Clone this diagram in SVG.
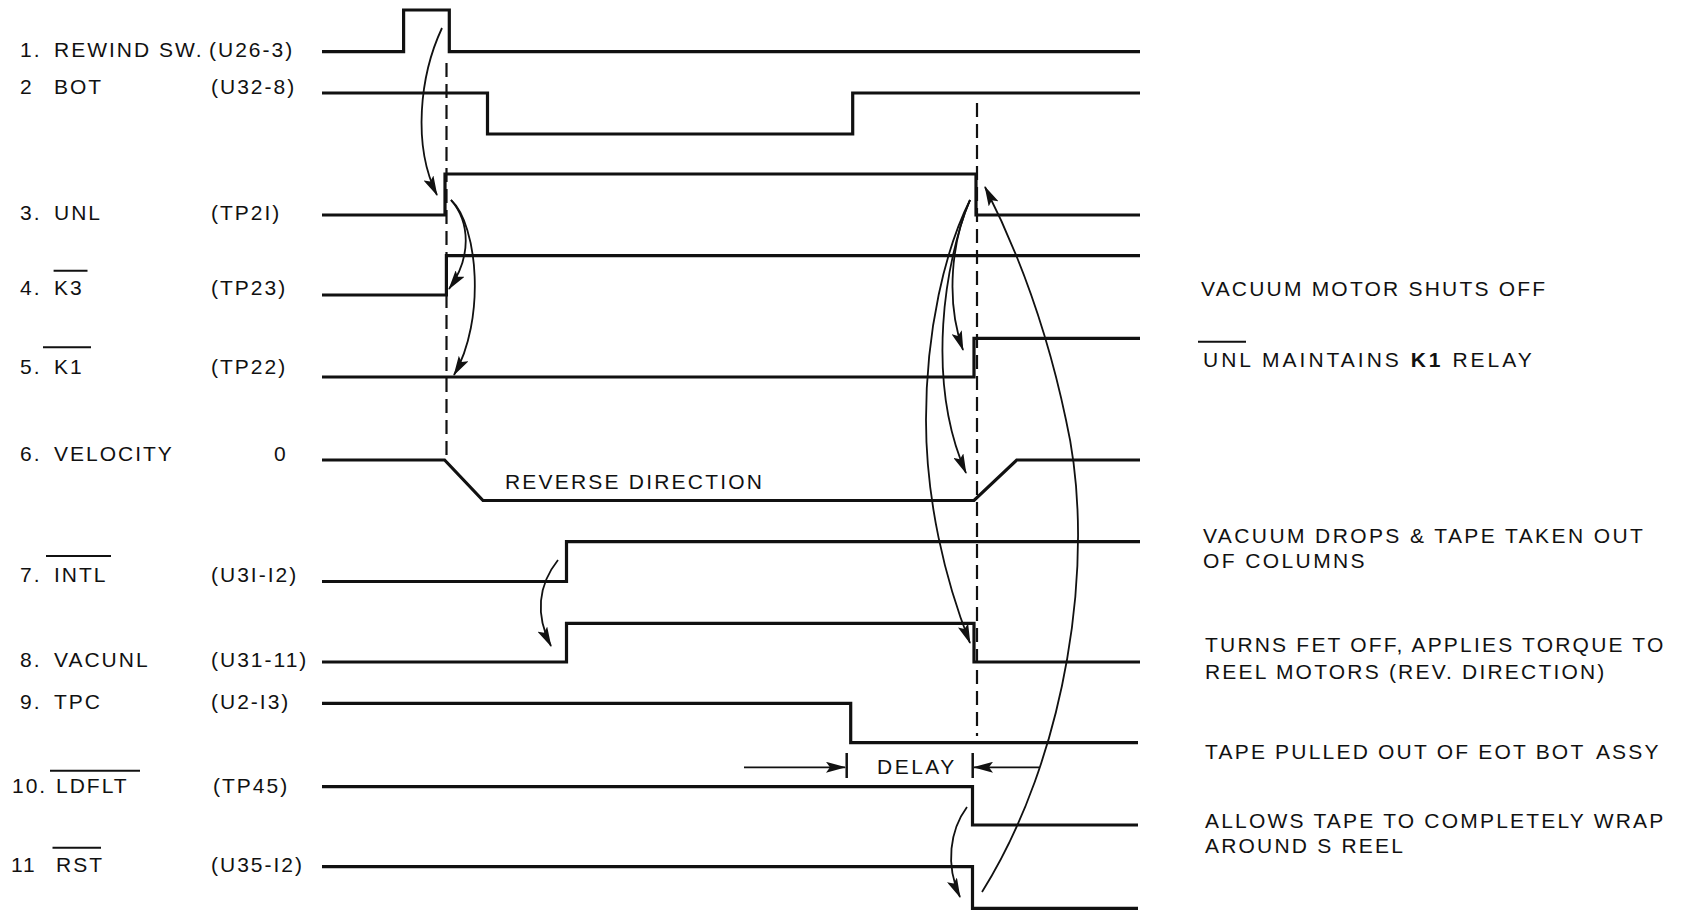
<svg xmlns="http://www.w3.org/2000/svg" width="1683" height="911" viewBox="0 0 1683 911">
<style>
  .bg{fill:#ffffff}
  .sig{fill:none;stroke:#111;stroke-width:3.2;stroke-linejoin:miter}
  .ol{stroke:#111;stroke-width:2}
  .dash{fill:none;stroke:#111;stroke-width:2.2;stroke-dasharray:14 7}
  .arr{fill:none;stroke:#111;stroke-width:1.8;marker-end:url(#ah)}
  .bar{stroke:#111;stroke-width:2.5}
  text{font-family:"Liberation Sans",Arial,sans-serif;font-size:21px;fill:#111;letter-spacing:2px}
  .note{letter-spacing:2.2px}
</style>
<defs>
  <marker id="ah" viewBox="0 0 20 11" refX="19" refY="5.5" markerWidth="20" markerHeight="11" markerUnits="userSpaceOnUse" orient="auto">
    <path d="M0,0 L20,5.5 L0,11 L4,5.5 Z" fill="#111"/>
  </marker>
</defs>
<rect class="bg" x="0" y="0" width="1683" height="911"/>

<g id="sig1">
  <text x="20" y="57">1.</text><text x="54" y="57">REWIND SW.</text><text x="209" y="57">(U26-3)</text>
  <path class="sig" d="M322,51.7 H403.6 V10 H449.3 V51.7 H1140"/>
</g>
<g id="sig2">
  <text x="20" y="94">2</text><text x="54" y="94">BOT</text><text x="211" y="94">(U32-8)</text>
  <path class="sig" d="M322,93 H487.5 V134 H852.7 V93 H1140"/>
</g>
<g id="sig3">
  <text x="20" y="220">3.</text><text x="54" y="220">UNL</text><text x="211" y="220">(TP2I)</text>
  <path class="sig" d="M322,215 H445 V174 H976 V215 H1140"/>
</g>
<g id="sig4">
  <text x="20" y="295">4.</text><text x="54" y="295">K3</text><text x="211" y="295">(TP23)</text>
  <line class="ol" x1="53.6" y1="270.7" x2="87.5" y2="270.7"/>
  <path class="sig" d="M322,295 H446.4 V255.7 H1140"/>
</g>
<g id="sig5">
  <text x="20" y="374">5.</text><text x="54" y="374">K1</text><text x="211" y="374">(TP22)</text>
  <line class="ol" x1="43" y1="347.3" x2="91" y2="347.3"/>
  <path class="sig" d="M322,377 H974 V338.3 H1140"/>
</g>
<g id="sig6">
  <text x="20" y="461">6.</text><text x="54" y="461">VELOCITY</text><text x="274" y="461">0</text>
  <path class="sig" d="M322,460 H444.6 L483,500.5 H974 L1016.7,460 H1140"/>
  <text class="note" x="505" y="489">REVERSE DIRECTION</text>
</g>
<g id="sig7">
  <text x="20" y="582">7.</text><text x="54" y="582">INTL</text><text x="211" y="582">(U3I-I2)</text>
  <line class="ol" x1="46" y1="556" x2="111" y2="556"/>
  <path class="sig" d="M322,581.5 H566.5 V541.7 H1140"/>
</g>
<g id="sig8">
  <text x="20" y="667">8.</text><text x="54" y="667">VACUNL</text><text x="211" y="667">(U31-11)</text>
  <path class="sig" d="M322,662 H566.5 V623.3 H974 V662 H1140"/>
</g>
<g id="sig9">
  <text x="20" y="709">9.</text><text x="54" y="709">TPC</text><text x="211" y="709">(U2-I3)</text>
  <path class="sig" d="M322,703.3 H850.7 V742.7 H1138"/>
</g>
<g id="sig10">
  <text x="12" y="793">10.</text><text x="56" y="793">LDFLT</text><text x="213" y="793">(TP45)</text>
  <line class="ol" x1="50" y1="770.7" x2="140" y2="770.7"/>
  <path class="sig" d="M322,786.7 H972.5 V825 H1138"/>
</g>
<g id="sig11">
  <text x="11" y="872">11</text><text x="56" y="872">RST</text><text x="211" y="872">(U35-I2)</text>
  <line class="ol" x1="52.5" y1="847.7" x2="101" y2="847.7"/>
  <path class="sig" d="M322,866.7 H972.5 V908.3 H1138"/>
</g>

<g id="notes">
  <text class="note" x="1201" y="296">VACUUM MOTOR SHUTS OFF</text>
  <line class="ol" x1="1198" y1="341.7" x2="1246" y2="341.7"/>
  <text class="note" x="1203" y="367" style="letter-spacing:3px">UNL MAINTAINS <tspan font-weight="bold">K1</tspan> RELAY</text>
  <text class="note" x="1203" y="543" style="letter-spacing:2.4px">VACUUM DROPS &amp; TAPE TAKEN OUT</text>
  <text class="note" x="1203" y="568" style="letter-spacing:2.4px">OF COLUMNS</text>
  <text class="note" x="1205" y="652">TURNS FET OFF, APPLIES TORQUE TO</text>
  <text class="note" x="1205" y="679">REEL MOTORS (REV. DIRECTION)</text>
  <text class="note" x="1205" y="759">TAPE PULLED OUT OF EOT BOT<tspan dx="12">ASSY</tspan></text>
  <text class="note" x="1205" y="828">ALLOWS TAPE TO COMPLETELY WRAP</text>
  <text class="note" x="1205" y="853">AROUND S REEL</text>
</g>

<g id="connectors">
  <line class="dash" x1="446.5" y1="63" x2="446.5" y2="455"/>
  <line class="dash" x1="977" y1="103" x2="977" y2="736"/>
  <path class="arr" d="M442,28 C420,75 412,145 437,195"/>
  <path class="arr" d="M451,200 C470,222 472,257 449,289"/>
  <path class="arr" d="M451,200 C478,225 486,320 454,375"/>
  <path class="arr" d="M558,560 C538,585 535,615 551,646"/>
  <path class="arr" d="M970,200 C952,240 945,300 963,350"/>
  <path class="arr" d="M970,200 C945,260 925,380 966,473"/>
  <path class="arr" d="M970,200 C945,250 926,330 926,420 C926,500 945,580 970,643"/>
  <path class="arr" d="M967,807 C950,830 945,865 960,897"/>
  <path class="arr" d="M982,892 C1065,760 1098,560 1066,420 C1045,320 1012,240 985,187"/>
  <g id="delay">
    <line class="bar" x1="846.7" y1="753" x2="846.7" y2="778"/>
    <line class="bar" x1="972.7" y1="753" x2="972.7" y2="778"/>
    <line class="arr" x1="744" y1="767.3" x2="845" y2="767.3"/>
    <line class="arr" x1="1039" y1="767.3" x2="974" y2="767.3"/>
    <text class="note" x="877" y="774" style="letter-spacing:2.5px">DELAY</text>
  </g>
</g>
</svg>
